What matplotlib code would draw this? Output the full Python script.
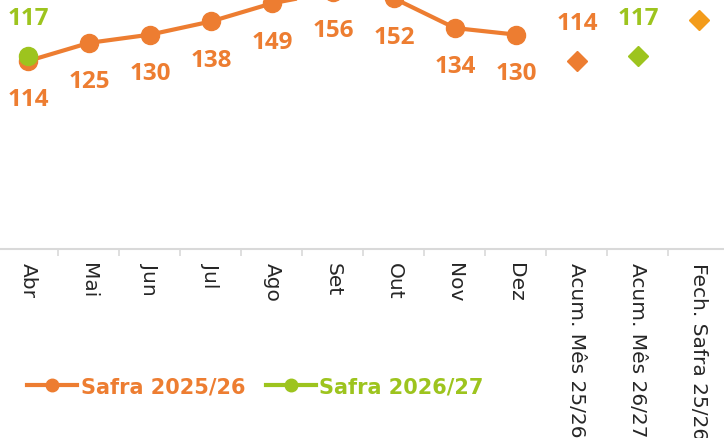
import matplotlib.pyplot as plt
import numpy as np
from matplotlib.lines import Line2D

# categories and values
categories = ['Abr', 'Mai', 'Jun', 'Jul', 'Ago', 'Set', 'Out', 'Nov', 'Dez',
              'Acum. Mês 25/26', 'Acum. Mês 26/27', 'Fech. Safra 25/26']
safra_2526 = [114, 125, 130, 138, 149, 156, 152, 134, 130]
safra_2627 = [117]
acum_2526 = 114
acum_2627 = 117
fech_2526 = 139

orange = '#ED7D31'
green = '#9DC41E'
yellow = '#F39C1B'

fig = plt.figure(figsize=(7.24, 4.39), dpi=100)
# axes overflow the figure on purpose, the reference is a cropped chart
ax = fig.add_axes([-0.00345, 0.4305, 1.011, 0.601])
ax.set_xlim(-0.5, len(categories) - 0.5)
ax.set_ylim(0, 160)

x_line = np.arange(len(safra_2526))
ax.plot(x_line, safra_2526, color=orange, lw=3, marker='o', ms=13, clip_on=False, zorder=3)
ax.plot(np.arange(len(safra_2627)), safra_2627, color=green, lw=3, marker='o', ms=13,
        clip_on=False, zorder=4)

idx_acum25 = categories.index('Acum. Mês 25/26')
idx_acum26 = categories.index('Acum. Mês 26/27')
idx_fech = categories.index('Fech. Safra 25/26')
ax.plot([idx_acum25], [acum_2526], 'D', color=orange, ms=10, clip_on=False)
ax.plot([idx_acum26], [acum_2627], 'D', color=green, ms=10, clip_on=False)
ax.plot([idx_fech], [fech_2526], 'D', color=yellow, ms=10, clip_on=False)

lbl = dict(textcoords='offset points', ha='center', va='center', family='Open Sans',
           fontsize=17.5, fontweight='bold', annotation_clip=False)
for xi, v in zip(x_line, safra_2526):
    ax.annotate(str(v), (xi, v), xytext=(0, -27.5), color=orange, **lbl)
for xi, v in enumerate(safra_2627):
    ax.annotate(str(v), (xi, v), xytext=(0, 27.5), color=green, **lbl)
ax.annotate(str(acum_2526), (idx_acum25, acum_2526), xytext=(0, 27.5), color=orange, **lbl)
ax.annotate(str(acum_2627), (idx_acum26, acum_2627), xytext=(0, 27.5), color=green, **lbl)
ax.annotate(str(fech_2526), (idx_fech, fech_2526), xytext=(0, 27.5), color=yellow, **lbl)

for s in ['top', 'left', 'right']:
    ax.spines[s].set_visible(False)
ax.spines['bottom'].set_color('#D9D9D9')
ax.spines['bottom'].set_linewidth(1.5)
ax.set_yticks([])
ax.set_xticks(np.arange(len(categories)))
ax.set_xticklabels(categories, rotation=270, fontsize=14.5, color='#262626')
ax.tick_params(axis='x', which='major', length=0, pad=9)
ax.set_xticks(np.arange(len(categories) - 1) + 0.5, minor=True)
ax.tick_params(axis='x', which='minor', length=5, color='#D9D9D9', width=1.2)
for t in ax.get_xticklabels():
    t.set_va('top')

handles = [Line2D([], [], color=orange, lw=3, marker='o', ms=9),
           Line2D([], [], color=green, lw=3, marker='o', ms=9)]
leg = fig.legend(handles, ['Safra 2025/26', 'Safra 2026/27'], loc='center left',
                 bbox_to_anchor=(0.012, 0.118), ncol=2, frameon=False,
                 prop={'size': 15, 'weight': 'bold'}, handlelength=2.4,
                 handletextpad=0.15, columnspacing=1.0, labelcolor=[orange, green])

fig.savefig('out.png', dpi=100)
